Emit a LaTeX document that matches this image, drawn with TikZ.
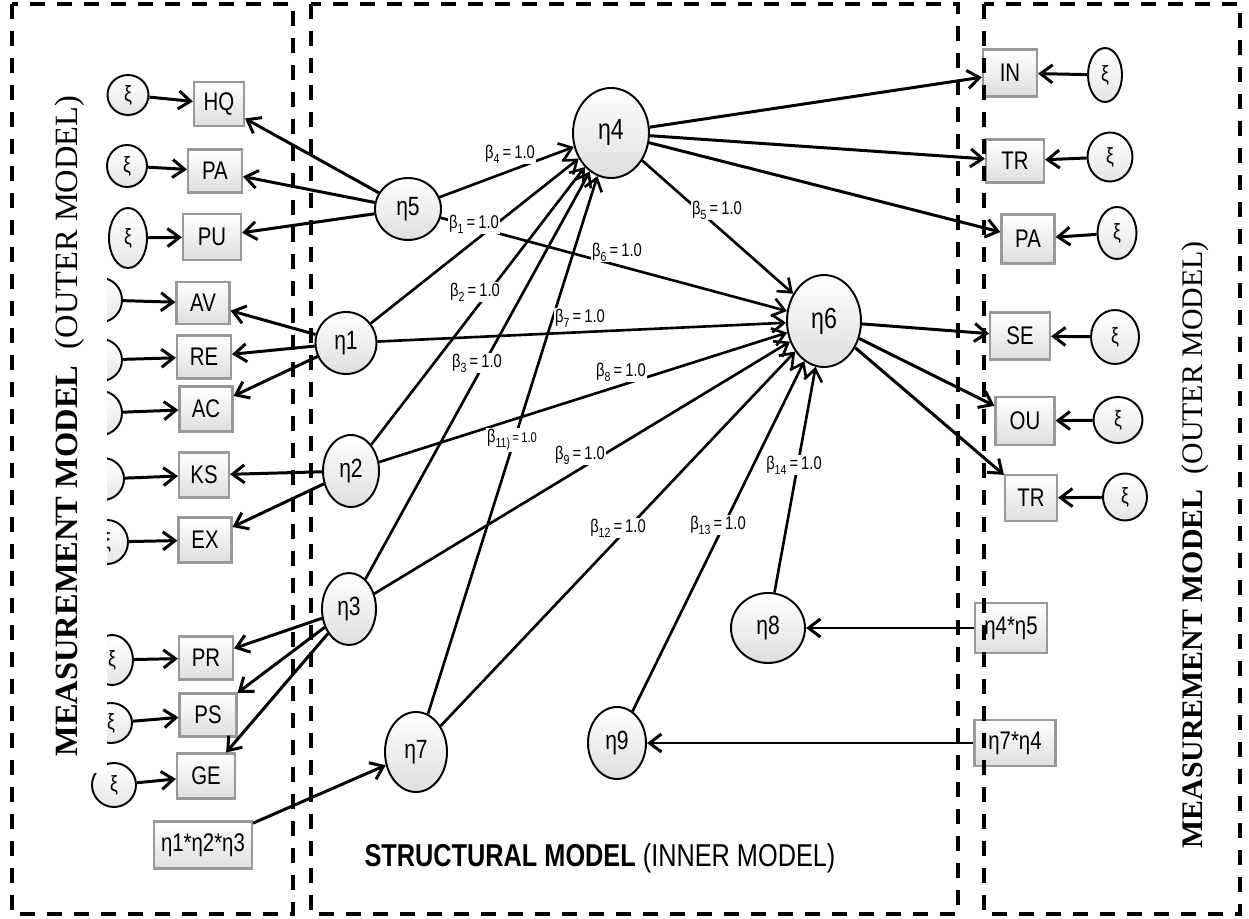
\documentclass[tikz,border=0pt]{standalone}
\usepackage{fontspec}
\setmainfont{Liberation Sans}[FakeStretch=0.8]
\newfontfamily\tnr{Liberation Serif}
\usetikzlibrary{shapes.geometric,arrows.meta}
\newcommand{\bt}[1]{β\raisebox{-0.5ex}{\fontsize{7.5}{8}\selectfont #1}\,=\,1.0}
\begin{document}
\begin{tikzpicture}[x=0.02cm,y=-0.02cm,
  sz/.style 2 args={minimum width=#1*0.02cm,minimum height=#2*0.02cm},
  ind/.style={rectangle, draw=black!40, line width=1.2pt, top color=white, bottom color=black!13, inner sep=0pt, font=\fontsize{14.5}{16}\selectfont},
  lat/.style={ellipse, draw=black, line width=1.1pt, top color=white, bottom color=black!13, inner sep=0pt, font=\fontsize{15}{17}\selectfont},
  err/.style={ellipse, draw=black, line width=1.1pt, top color=white, bottom color=black!10, inner sep=0pt, font=\fontsize{12.5}{14}\selectfont},
  arr/.style={-{Straight Barb[length=2.4mm,width=3.6mm]}, line width=1.7pt},
  pth/.style={-{Straight Barb[length=2.4mm,width=3.6mm]}, line width=1.5pt},
  lbl/.style={fill=white, inner sep=0.6pt, font=\fontsize{10.5}{12}\selectfont},
  frame/.style={line width=2.4pt, dash pattern=on 0.3cm off 0.24cm}
]
\useasboundingbox (0,0) rectangle (1249,919);
\fill[white] (0,0) rectangle (1249,919);

% ---- left error terms
\node[err, sz={41}{40}] (xHQ) at (128,95) {ξ};
\node[err, sz={40}{42}] (xPA) at (127,166) {ξ};
\node[err, sz={38}{60}] (xPU) at (128,238) {ξ};
\node[err, sz={42}{44}] (xAV) at (101,300) {ξ};
\node[err, sz={42}{42}] (xRE) at (101,360) {ξ};
\node[err, sz={42}{44}] (xAC) at (101,413) {ξ};
\node[err, sz={42}{42}] (xKS) at (103,479) {ξ};
\node[err, sz={42}{44}] (xEX) at (107,542) {ξ};
\node[err, sz={42}{50}] (xPR) at (112,660) {ξ};
\node[err, sz={42}{40}] (xPS) at (111,723) {ξ};
\node[err, sz={44}{44}] (xGE) at (114,785) {ξ};

% ---- left indicators
\node[ind, sz={50}{44}] (HQ) at (219,104) {HQ};
\node[ind, sz={54}{43}] (PA) at (215,171) {PA};
\node[ind, sz={58}{46}] (PU) at (212,237) {PU};
\node[ind, sz={53}{42}] (AV) at (203,303) {AV};
\node[ind, sz={54}{43}] (RE) at (204,357) {RE};
\node[ind, sz={53}{45}] (AC) at (206,409) {AC};
\node[ind, sz={50}{45}] (KS) at (204,475) {KS};
\node[ind, sz={53}{45}] (EX) at (205,540) {EX};
\node[ind, sz={54}{43}] (PR) at (206,658) {PR};
\node[ind, sz={57}{43}] (PS) at (208,715) {PS};
\node[ind, sz={58}{45}] (GE) at (206,776) {GE};
\node[ind, sz={98}{47}] (p123) at (203,845) {η1*η2*η3};

% ---- latent variables
\node[lat, sz={66}{62}] (e5) at (408,209) {η5};
\node[lat, sz={76}{90}, font=\fontsize{16.5}{18}\selectfont] (e4) at (611,133) {η4};
\node[lat, sz={61}{62}] (e1) at (346,343) {η1};
\node[lat, sz={56}{72}] (e2) at (351,471) {η2};
\node[lat, sz={54}{72}] (e3) at (349,609) {η3};
\node[lat, sz={62}{80}] (e7) at (416,752) {η7};
\node[lat, sz={74}{92}, font=\fontsize{16.5}{18}\selectfont] (e6) at (824,321) {η6};
\node[lat, sz={74}{70}] (e8) at (768,628) {η8};
\node[lat, sz={58}{72}] (e9) at (617,743) {η9};

% ---- right indicators
\node[ind, sz={54}{47}] (IN) at (1010,73) {IN};
\node[ind, sz={58}{43}] (TRa) at (1015,161) {TR};
\node[ind, sz={53}{49}] (PAb) at (1028,239) {PA};
\node[ind, sz={60}{47}] (SE) at (1020,336) {SE};
\node[ind, sz={59}{48}] (OU) at (1025,421) {OU};
\node[ind, sz={52}{46}] (TRb) at (1031,498) {TR};
\node[ind, sz={72}{50}] (p45) at (1011,628) {η4*η5};
\node[ind, sz={81}{46}] (p74) at (1015,743) {η7*η4};

% ---- right error terms
\node[err, sz={34}{54}] (yIN) at (1105,75) {ξ};
\node[err, sz={45}{49}] (yTRa) at (1110,157) {ξ};
\node[err, sz={39}{52}] (yPA) at (1117,233) {ξ};
\node[err, sz={48}{54}] (ySE) at (1115,337) {ξ};
\node[err, sz={49}{46}] (yOU) at (1118,420) {ξ};
\node[err, sz={44}{47}] (yTRb) at (1125,497) {ξ};

% ---- measurement arrows (left)
\foreach \a in {HQ,PA,PU,AV,RE,AC,KS,EX,PR,PS,GE} \draw[arr] (x\a) -- (\a);
\draw[arr] (e5) -- (HQ);
\draw[arr] (e5) -- (PA);
\draw[arr] (e5) -- (PU);
\draw[arr] (e1) -- (AV);
\draw[arr] (e1) -- (RE);
\draw[arr] (e1) -- (AC);
\draw[arr] (e2) -- (KS);
\draw[arr] (e2) -- (EX);
\draw[arr] (e3) -- (PR);
\draw[arr] (e3) -- (PS);
\draw[arr] (e3) -- (GE);
\draw[arr] (p123) -- (e7);

% ---- measurement arrows (right)
\draw[arr] (e4) -- (IN);
\draw[arr] (e4) -- (TRa);
\draw[arr] (e4) -- (PAb);
\draw[arr] (e6) -- (SE);
\draw[arr] (e6) -- (OU);
\draw[arr] (e6) -- (TRb);
\draw[arr] (yIN) -- (IN);
\draw[arr] (yTRa) -- (TRa);
\draw[arr] (yPA) -- (PAb);
\draw[arr] (ySE) -- (SE);
\draw[arr] (yOU) -- (OU);
\draw[arr] (yTRb) -- (TRb);
\draw[arr] (p45) -- (e8);
\draw[arr] (p74) -- (e9);

% ---- structural paths
\draw[pth] (e5) -- (e4);
\draw[pth] (e1) -- (e4);
\draw[pth] (e2) -- (e4);
\draw[pth] (e3) -- (e4);
\draw[pth] (e7) -- (e4);
\draw[pth] (e4) -- (e6);
\draw[pth] (e5) -- (e6);
\draw[pth] (e1) -- (e6);
\draw[pth] (e2) -- (e6);
\draw[pth] (e3) -- (e6);
\draw[pth] (e7) -- (e6);
\draw[pth] (e9) -- (e6);
\draw[pth] (e8) -- (e6);

% ---- path labels
\node[lbl] (b4) at (510,154) {\bt{4}};
\node[lbl] (b1) at (474,224) {\bt{1}};
\node[lbl] (b6) at (617,252) {\bt{6}};
\node[lbl] (b2) at (475,292) {\bt{2}};
\node[lbl] (b7) at (580,318) {\bt{7}};
\node[lbl] (b3) at (477,363) {\bt{3}};
\node[lbl] (b8) at (621,372) {\bt{8}};
\node[lbl] (b5) at (717,210) {\bt{5}};
\node[lbl] (b11) at (512,440) {β\raisebox{-0.5ex}{\fontsize{7.5}{8}\selectfont 11)}{\fontsize{8}{9}\selectfont\,=\,1.0}};
\node[lbl] (b9) at (580,455) {\bt{9}};
\node[lbl] (b12) at (618,528) {\bt{12}};
\node[lbl] (b13) at (718,525) {\bt{13}};
\node[lbl] (b14) at (794,465) {\bt{14}};

% ---- titles
\node[font=\fontsize{18}{21}\selectfont] (st) at (600,858) {\textbf{STRUCTURAL MODEL} (INNER MODEL)};
\fill[white] (40,262) rectangle (107,773);
\node[rotate=90, font=\tnr\fontsize{18.5}{20}\selectfont] (lt) at (70,426) {\textbf{MEASUREMENT MODEL}\ \ (OUTER MODEL)};
\node[rotate=90, font=\tnr\fontsize{17}{19}\selectfont] (rt) at (1195,545) {\textbf{MEASUREMENT MODEL}\ \ (OUTER MODEL)};

% ---- dashed frames
\draw[frame] (12,4) rectangle (293,914);
\draw[frame] (311,4) rectangle (958,914);
\draw[frame] (984,4) rectangle (1240,914);
\end{tikzpicture}
\end{document}
